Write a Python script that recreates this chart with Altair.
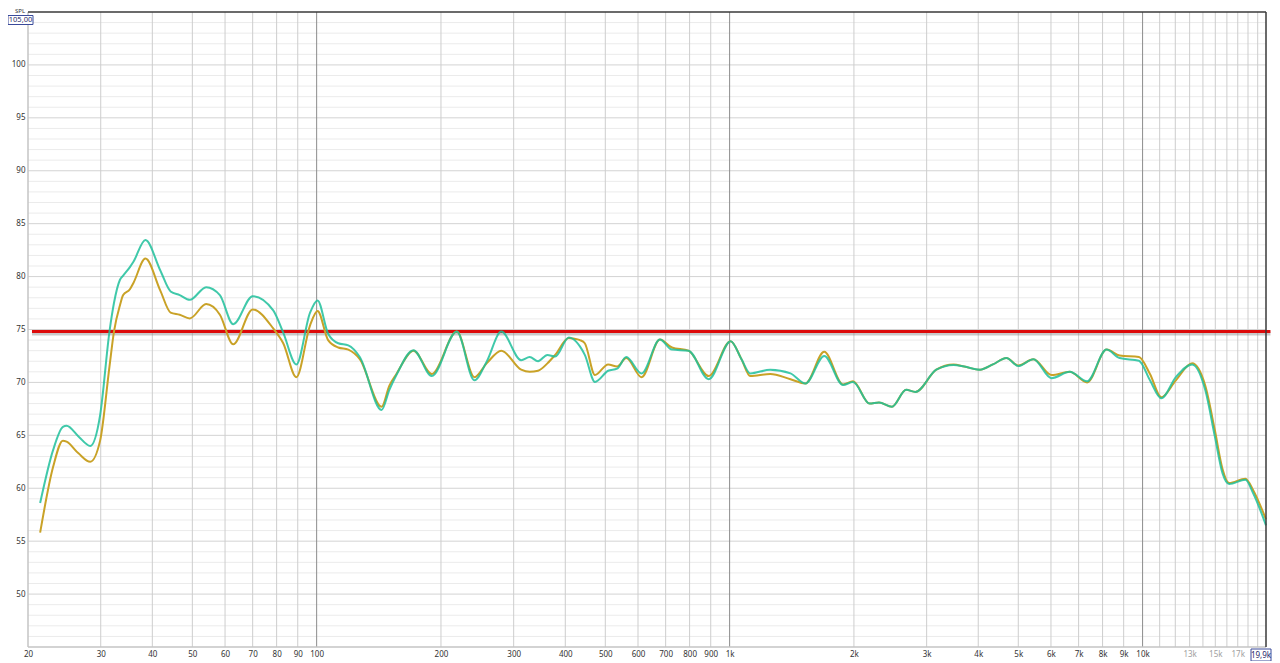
import altair as alt
import pandas as pd

# ---- measured response (Hz, dB SPL) ----
freq = [21.4, 23.0, 24.3, 24.8, 26.5, 28.3, 29.9, 31.5, 32.3, 33.4, 34.0, 35.3, 36.0, 38.5,
        41.8, 44.3, 46.6, 49.3, 54.0, 58.3, 62.8, 70.0, 78.5, 83.0, 89.3, 96.4, 100.5, 106.6,
        112.8, 119.3, 127.2, 143.6, 150, 156, 171.6, 190, 218.4, 241, 258, 280, 312.8, 328,
        343.6, 362, 378, 408, 418, 434, 446, 472, 508, 534, 562, 612, 678, 725, 795, 890,
        1006, 1068, 1122, 1254, 1404, 1526, 1695, 1882, 1990, 2182, 2300, 2472, 2676, 2818,
        3166, 3486, 3700, 4040, 4340, 4680, 5000, 5440, 6020, 6660, 7340, 8180, 8800, 9800,
        10420, 11100, 12040, 13180, 14180, 14960, 15620, 16200, 17740, 18540, 19900]

spl_teal = [58.6, 63.6, 65.8, 65.9, 64.9, 64.0, 66.9, 74.8, 77.5, 79.7, 80.1, 80.9, 81.4, 83.45,
            80.6, 78.6, 78.25, 77.8, 79.0, 78.25, 75.5, 78.15, 76.8, 74.7, 71.7, 76.6, 77.75, 74.6,
            73.7, 73.5, 72.4, 67.4, 69.3, 70.7, 73.05, 70.6, 74.8, 70.2, 71.95, 74.8, 72.1, 72.4,
            72.0, 72.6, 72.45, 74.25, 74.1, 73.4, 72.6, 70.05, 71.1, 71.3, 72.4, 70.85, 74.05, 73.1, 73.0, 70.3,
            73.9, 72.2, 70.85, 71.2, 70.85, 69.9, 72.5, 69.75, 70.05, 68.0, 68.1, 67.7, 69.3, 69.1,
            71.2, 71.65, 71.5, 71.2, 71.7, 72.3, 71.55, 72.2, 70.4, 71.0, 70.1, 73.1, 72.3, 72.05,
            70.2, 68.5, 70.5, 71.7, 69.3, 64.9, 61.4, 60.4, 60.8, 59.5, 56.5]

spl_gold = [55.8, 62.0, 64.5, 64.4, 63.3, 62.5, 64.5, 71.5, 74.8, 77.3, 78.25, 78.8, 79.4, 81.7,
            78.7, 76.6, 76.4, 76.05, 77.4, 76.4, 73.6, 76.9, 75.1, 73.7, 70.5, 75.4, 76.75, 74.0,
            73.3, 73.1, 72.2, 67.7, 69.7, 70.8, 73.0, 70.8, 74.8, 70.5, 71.8, 73.0, 71.2, 71.0,
            71.1, 71.8, 72.6, 74.2, 74.15, 74.0, 73.7, 70.7, 71.7, 71.5, 72.3, 70.5, 74.05, 73.3, 73.0, 70.6,
            73.9, 72.2, 70.6, 70.8, 70.3, 69.9, 72.9, 69.8, 70.1, 68.0, 68.1, 67.7, 69.3, 69.1,
            71.2, 71.7, 71.5, 71.2, 71.7, 72.3, 71.6, 72.2, 70.7, 71.0, 70.0, 73.1, 72.55, 72.4,
            70.8, 68.6, 70.2, 71.8, 69.7, 65.5, 61.8, 60.5, 60.9, 59.8, 57.05]

# ---- axes / grid ----
x_grid_minor = [30, 40, 50, 60, 70, 80, 90, 200, 300, 400, 500, 600, 700, 800, 900,
                2000, 3000, 4000, 5000, 6000, 7000, 8000, 9000,
                11000, 12000, 13000, 14000, 15000, 16000, 17000, 18000, 19000]
x_grid_major = [100, 1000, 10000]
y_grid_minor = [46, 47, 48, 49, 51, 52, 53, 54, 56, 57, 58, 59, 61, 62, 63, 64, 66, 67, 68, 69,
                71, 72, 73, 74, 76, 77, 78, 79, 81, 82, 83, 84, 86, 87, 88, 89, 91, 92, 93, 94,
                96, 97, 98, 99, 101, 102, 103, 104]
y_grid_major = [50, 55, 60, 65, 70, 75, 80, 85, 90, 95, 100]
x_tick_values = [20, 30, 40, 50, 60, 70, 80, 90, 100, 200, 300, 400, 500, 600, 700, 800, 900,
                 1000, 2000, 3000, 4000, 5000, 6000, 7000, 8000, 9000, 10000, 13000, 15000, 17000]
y_tick_values = y_grid_major
x_domain = [20, 19900]
y_domain = [45, 105]
ref_level = [74.8]
ref_start = [20.45]
ref_end = [20400]

FONT = "Noto Sans"

xs = alt.Scale(type="log", domain=x_domain, nice=False)
ys = alt.Scale(domain=y_domain, nice=False, zero=False)

xaxis = alt.Axis(values=x_tick_values, grid=False, ticks=False, domain=False, title=None,
                 labelExpr="datum.value >= 1000 ? (datum.value/1000) + 'k' : datum.value + ''",
                 labelFont=FONT, labelFontSize=8, labelPadding=3, labelFlush=False,
                 labelOverlap=False,
                 labelColor={"condition": {"test": "datum.value > 10000", "value": "#a0a0a0"},
                             "value": "#333333"})
yaxis = alt.Axis(values=y_tick_values, grid=False, ticks=False, domain=False, title=None,
                 labelFont=FONT, labelFontSize=8, labelPadding=3, labelColor="#333333",
                 labelFlush=False, labelOverlap=False)


def X(field="freq"):
    return alt.X(f"{field}:Q", scale=xs, axis=xaxis)


def Y(field="spl"):
    return alt.Y(f"{field}:Q", scale=ys, axis=yaxis)


df_vmin = pd.DataFrame({"freq": x_grid_minor})
df_vmaj = pd.DataFrame({"freq": x_grid_major})
df_hmin = pd.DataFrame({"spl": y_grid_minor})
df_hmaj = pd.DataFrame({"spl": y_grid_major})

g1 = alt.Chart(df_hmin).mark_rule(color="#ebebeb", strokeWidth=1).encode(y=Y())
g2 = alt.Chart(df_hmaj).mark_rule(color="#d3d3d3", strokeWidth=1).encode(y=Y())
g3 = alt.Chart(df_vmin).mark_rule(color="#cdcdcd", strokeWidth=1).encode(x=X())
g4 = alt.Chart(df_vmaj).mark_rule(color="#8c8c8c", strokeWidth=1).encode(x=X())

frame_left = alt.Chart(pd.DataFrame({"freq": [x_domain[0]]})).mark_rule(color="#c4c4c4", strokeWidth=1.5).encode(x=X())
frame_bottom = alt.Chart(pd.DataFrame({"spl": [y_domain[0]]})).mark_rule(color="#c4c4c4", strokeWidth=1.5).encode(y=Y())
frame_top = alt.Chart(pd.DataFrame({"spl": [y_domain[1]]})).mark_rule(color="#3a3a3a", strokeWidth=1.5).encode(y=Y())
frame_right = alt.Chart(pd.DataFrame({"freq": [x_domain[1]]})).mark_rule(color="#3a3a3a", strokeWidth=1.5).encode(x=X())

df_resp = pd.DataFrame({"freq": freq, "teal": spl_teal, "gold": spl_gold})

line_gold = alt.Chart(df_resp).mark_line(color="#c9a227", strokeWidth=2, interpolate="monotone").encode(
    x=X(), y=Y("gold"))
line_teal = alt.Chart(df_resp).mark_line(color="#1fbf9b", strokeWidth=2, opacity=0.85,
                                         interpolate="monotone").encode(x=X(), y=Y("teal"))

df_ref = pd.DataFrame({"freq": ref_start, "freq2": ref_end, "spl": ref_level})
ref_shadow = alt.Chart(df_ref).mark_rule(color="#8a8a8a", opacity=0.45, strokeWidth=4, yOffset=2).encode(
    x=X(), x2="freq2:Q", y=Y())
ref_line = alt.Chart(df_ref).mark_rule(color="#dd0a0a", strokeWidth=3).encode(
    x=X(), x2="freq2:Q", y=Y())

# ---- corner labels ----
dummy = pd.DataFrame({"a": [0]})
spl_label = alt.Chart(dummy).mark_text(text="SPL", font=FONT, fontSize=6, color="#333333",
                                       baseline="top", align="center").encode(
    x=alt.value(-8), y=alt.value(-4.5))
top_box = alt.Chart(dummy).mark_rect(fill="white", stroke="#3a4a9a", strokeWidth=1).encode(
    x=alt.value(-20), x2=alt.value(5), y=alt.value(3.5), y2=alt.value(12.5))
top_txt = alt.Chart(dummy).mark_text(text="105,00", font=FONT, fontSize=7.5, color="#1f2a6a",
                                     baseline="middle", align="center").encode(
    x=alt.value(-7.5), y=alt.value(8.3))
bot_box = alt.Chart(dummy).mark_rect(fill="white", stroke="#3a4a9a", strokeWidth=1).encode(
    x=alt.value(1223), x2=alt.value(1243), y=alt.value(637), y2=alt.value(649))
bot_txt = alt.Chart(dummy).mark_text(text="19,9k", font=FONT, fontSize=8, color="#1f2a6a",
                                     baseline="middle", align="center").encode(
    x=alt.value(1233), y=alt.value(643.5))

chart = alt.layer(
    g1, g2, g3, g4, frame_left, frame_bottom,
    ref_shadow, ref_line, line_gold, line_teal,
    frame_top, frame_right,
    spl_label, top_box, top_txt, bot_box, bot_txt,
).properties(
    width=1238, height=635,
    padding={"left": 20, "top": 4, "right": 6, "bottom": 14},
    autosize=alt.AutoSizeParams(type="none"),
    background="white",
).configure_view(stroke=None)

chart.save("out.html", embed_options={"renderer": "svg", "actions": False})
